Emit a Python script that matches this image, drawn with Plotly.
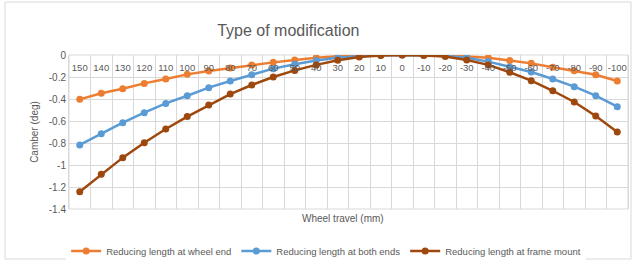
import plotly.graph_objects as go

travel = [150, 140, 130, 120, 110, 100, 90, 80, 70, 60, 50, 40, 30, 20, 10, 0,
          -10, -20, -30, -40, -50, -60, -70, -80, -90, -100]
categories = [str(v) for v in travel]

wheel_end = [-0.403, -0.348, -0.306, -0.258, -0.218, -0.176, -0.145, -0.118, -0.090, -0.067,
             -0.045, -0.025, -0.012, -0.004, -0.001, 0.0, -0.001, -0.005, -0.013, -0.025,
             -0.050, -0.076, -0.112, -0.143, -0.180, -0.236]
both_ends = [-0.818, -0.715, -0.615, -0.524, -0.440, -0.370, -0.297, -0.236, -0.179, -0.124,
             -0.085, -0.050, -0.025, -0.010, -0.002, 0.0, -0.002, -0.008, -0.025, -0.060,
             -0.110, -0.155, -0.218, -0.288, -0.370, -0.470]
frame_mount = [-1.243, -1.085, -0.933, -0.797, -0.673, -0.560, -0.455, -0.355, -0.273, -0.200,
               -0.140, -0.090, -0.048, -0.018, -0.004, 0.0, -0.004, -0.013, -0.045, -0.090,
               -0.157, -0.233, -0.325, -0.427, -0.555, -0.700]

series = [
    ("Reducing length at wheel end", wheel_end, "#ED7D31"),
    ("Reducing length at both ends", both_ends, "#5B9BD5"),
    ("Reducing length at frame mount", frame_mount, "#9E480E"),
]

fig = go.Figure()
for name, vals, col in series:
    fig.add_trace(go.Scatter(
        x=categories, y=vals, name=name, mode="lines+markers",
        line=dict(color=col, width=2.5), marker=dict(color=col, size=7),
    ))

grid = "#D9D9D9"
txt = "#595959"
fig.update_layout(
    width=635, height=263,
    margin=dict(l=69, r=7, t=55, b=54, autoexpand=False),
    paper_bgcolor="white", plot_bgcolor="white",
    font=dict(family="Liberation Sans, Arial, sans-serif", size=10, color=txt),
    title=dict(text="Type of modification", x=0.454, xanchor="center", y=0.886, yanchor="middle",
               font=dict(size=16, color=txt), automargin=False),
    showlegend=True,
    legend=dict(orientation="h", x=0.46, xanchor="center", y=-0.273, yanchor="middle",
                font=dict(size=9.5, color=txt), itemwidth=30, tracegroupgap=0),
    xaxis=dict(type="category", side="bottom", anchor="free", position=1,
               range=[-0.5, 25.5], tickson="boundaries", ticks="", tickangle=0,
               ticklabelstandoff=5, automargin=False,
               showgrid=True, gridcolor=grid, gridwidth=1,
               showline=False, tickfont=dict(size=9.5, color=txt), zeroline=False),
    yaxis=dict(range=[-1.4, 0], tickvals=[0, -0.2, -0.4, -0.6, -0.8, -1, -1.2, -1.4],
               ticktext=["0", "-0.2", "-0.4", "-0.6", "-0.8", "-1", "-1.2", "-1.4"],
               showgrid=True, gridcolor=grid, zeroline=False, automargin=False,
               showline=True, linecolor=grid, mirror=True, ticks="",
               title=dict(text="Camber (deg)", font=dict(size=10, color=txt), standoff=8),
               tickfont=dict(size=10, color=txt)),
    annotations=[dict(text="Wheel travel (mm)", xref="paper", yref="paper", x=0.49, y=-0.06,
                      xanchor="center", yanchor="middle", showarrow=False,
                      font=dict(size=10, color=txt))],
    shapes=[
        dict(type="rect", xref="paper", yref="paper", x0=0, x1=1, y0=0, y1=1,
             line=dict(color=grid, width=1), layer="below"),
        dict(type="rect", xref="paper", yref="paper",
             x0=-64/559, x1=1 + 3/559, y0=-50/154, y1=1 + 53/154,
             line=dict(color="#D9D9D9", width=1)),
    ],
)

fig.write_html("out.html", config={"displayModeBar": False},
               post_script="document.body.style.margin='0';")
